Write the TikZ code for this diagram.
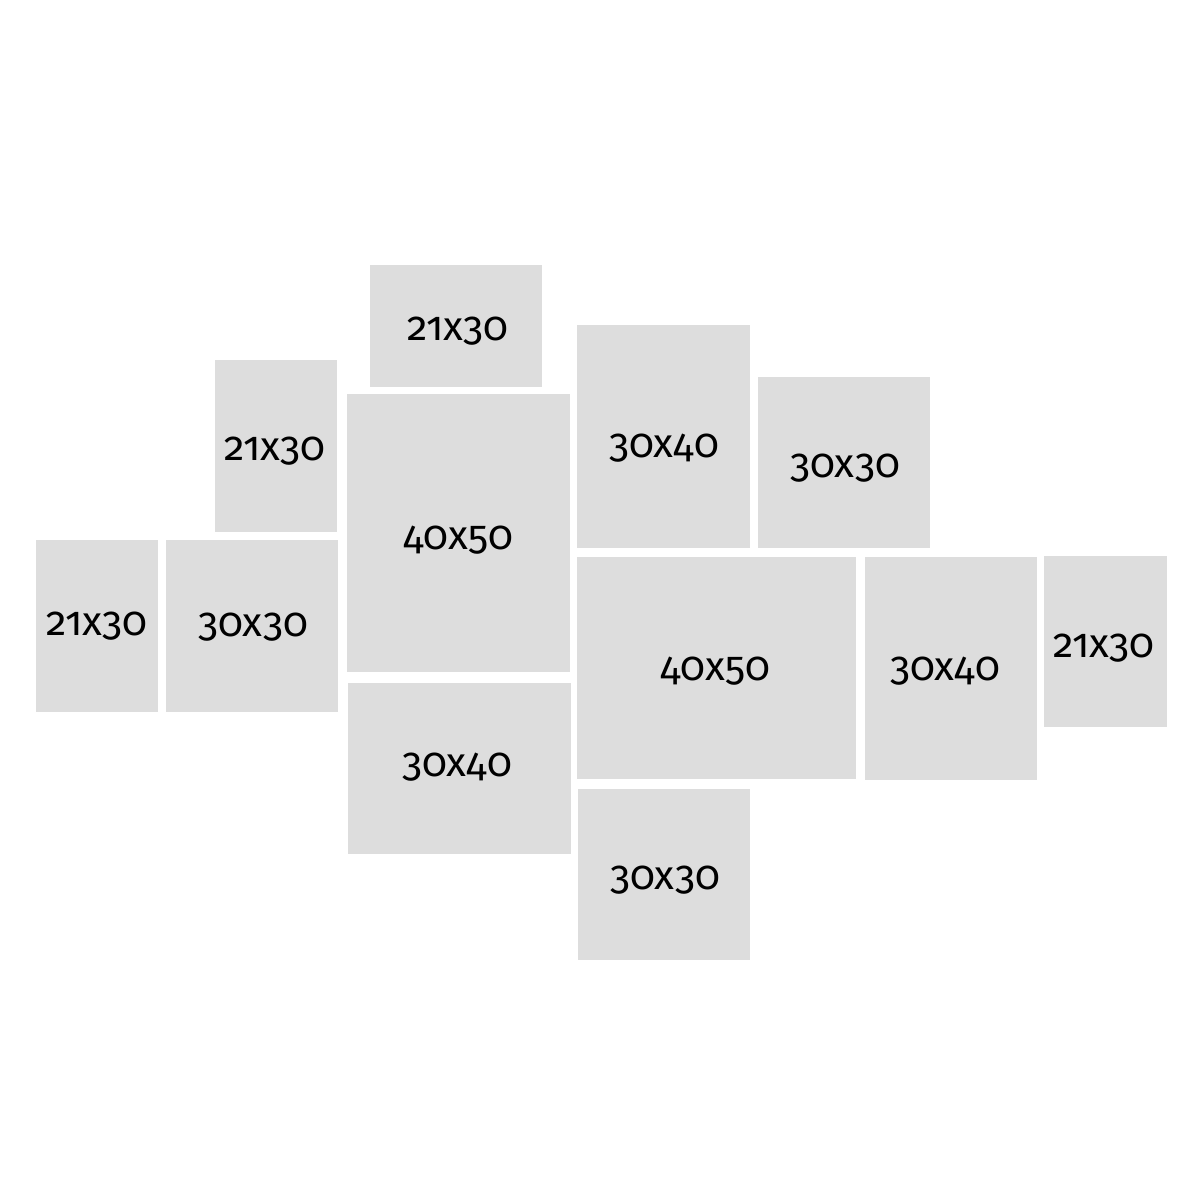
\documentclass[tikz,border=0pt]{standalone}
\usepackage{fontspec}
\setmainfont[Numbers=OldStyle]{Fira Sans}
\usetikzlibrary{positioning}

\definecolor{framegray}{RGB}{221,221,221}
\tikzset{
  frame/.style={fill=framegray,draw=none,inner sep=0pt},
  size/.style={font=\fontsize{20.5}{24}\selectfont,anchor=base,inner sep=0pt}
}

\begin{document}
\begin{tikzpicture}[x=0.5pt,y=-0.5pt]
\useasboundingbox[fill=white] (0,0) rectangle (1200,1200);

% frames
\node[frame,minimum width=86pt,minimum height=61pt] (p1) at (456,326) {};
\node[frame,minimum width=61pt,minimum height=86pt] (p2) at (276,446) {};
\node[frame,minimum width=111.5pt,minimum height=139pt] (p3) at (458.5,533) {};
\node[frame,minimum width=86.5pt,minimum height=111.5pt] (p4) at (663.5,436.5) {};
\node[frame,minimum width=86pt,minimum height=85.5pt] (p5) at (844,462.5) {};
\node[frame,minimum width=61pt,minimum height=86pt] (p6) at (97,626) {};
\node[frame,minimum width=86pt,minimum height=86pt] (p7) at (252,626) {};
\node[frame,minimum width=139.5pt,minimum height=111pt] (p8) at (716.5,668) {};
\node[frame,minimum width=86pt,minimum height=111.5pt] (p9) at (951,668.5) {};
\node[frame,minimum width=61.5pt,minimum height=85.5pt] (p10) at (1105.5,641.5) {};
\node[frame,minimum width=111.5pt,minimum height=85.5pt] (p11) at (459.5,768.5) {};
\node[frame,minimum width=86pt,minimum height=85.5pt] (p12) at (664,874.5) {};

% sizes
\node[size] (t1) at (458,340) {21x30};
\node[size] (t2) at (275,460) {21x30};
\node[size] (t3) at (458,549) {40x50};
\node[size] (t4) at (664,457) {30x40};
\node[size] (t5) at (845,477) {30x30};
\node[size] (t6) at (97,635) {21x30};
\node[size] (t7) at (253,636) {30x30};
\node[size] (t8) at (715,680) {40x50};
\node[size] (t9) at (945,680) {30x40};
\node[size] (t10) at (1104,657) {21x30};
\node[size] (t11) at (457,776) {30x40};
\node[size] (t12) at (665,889) {30x30};
\end{tikzpicture}
\end{document}
